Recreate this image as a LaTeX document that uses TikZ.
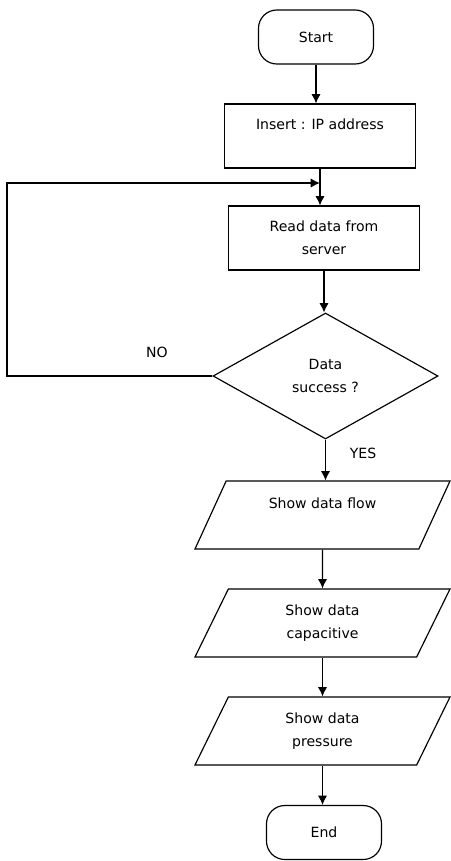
\documentclass[tikz,border=0pt]{standalone}
\usepackage{fontspec}
\setmainfont{DejaVu Sans}
\usetikzlibrary{shapes.geometric,arrows.meta}

\begin{document}
\begin{tikzpicture}[x=0.03cm, y=-0.03cm, line width=1pt, >={Latex[length=8pt,width=8pt]},
    every node/.style={font=\fontsize{12}{19.5}\selectfont, align=center},
    terminal/.style={draw, rectangle, rounded corners=0.55cm, minimum width=3.45cm, minimum height=1.62cm},
    process/.style={draw, rectangle, minimum width=5.72cm, minimum height=1.92cm},
    decision/.style={draw, diamond, aspect=1.8, inner sep=0pt, minimum width=6.75cm, minimum height=3.78cm},
    io/.style={draw, trapezium, trapezium left angle=53, trapezium right angle=127, trapezium stretches body, minimum width=7.65cm, minimum height=2.04cm}]
    \useasboundingbox (0,0) rectangle (451,861);
    \node[terminal] (start) at (316,37) {Start};
    \node[process] (insert) at (320,136) {Insert : IP address\\~};
    \node[process] (read) at (324,238) {Read data from\\server};
    \node[decision] (check) at (325.5,376) {Data\\success ?};
    \node[io] (flow) at (322.5,515) {Show data flow\\~};
    \node[io] (capa) at (322.5,623) {Show data\\capacitive};
    \node[io] (press) at (322.5,731) {Show data\\pressure};
    \node[terminal] (end) at (324,832.5) {End};
    \coordinate (merge) at (320,183);
    \coordinate (corner) at (7,376);
    \node (no) at (157,352) {NO};
    \node (yes) at (363,453) {YES};
    % main flow
    \draw[->] (start) -- (start |- insert.north);
    \draw[->] (insert.south) -- (insert.south |- read.north);
    \draw[->] (read.south) -- (read.south |- check.north);
    \draw[->] (check.south) -- (check.south |- flow.north);
    \draw[->] (flow.south) -- (capa.north);
    \draw[->] (capa.south) -- (press.north);
    \draw[->] (press.south) -- (press.south |- end.north);
    % loop back
    \draw[->] (check.west) -- (corner) |- (merge);
\end{tikzpicture}
\end{document}
